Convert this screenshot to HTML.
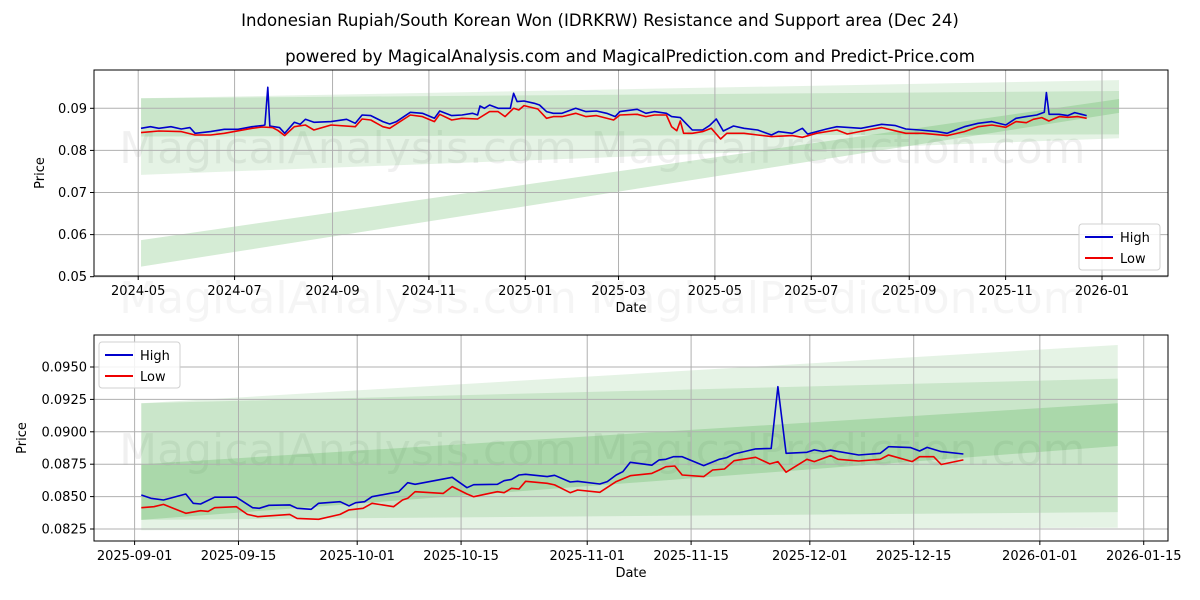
<!DOCTYPE html>
<html><head><meta charset="utf-8"><style>
body{margin:0;background:#fff}
svg{display:block;font-family:"DejaVu Sans","Liberation Sans",sans-serif}
</style></head><body>
<svg id="chart" width="1200" height="600" viewBox="0 0 1200 600" xmlns="http://www.w3.org/2000/svg">
<text x="600" y="26" text-anchor="middle" font-size="16.6">Indonesian Rupiah/South Korean Won (IDRKRW) Resistance and Support area (Dec 24)</text>
<text x="630" y="62" text-anchor="middle" font-size="16.6">powered by MagicalAnalysis.com and MagicalPrediction.com and Predict-Price.com</text>
<g id="top"></g>
<g id="bot"></g>
</svg>
<script>
// ---------- TOP CHART DATA (days since 2024-05-01) ----------
const topHighDays=[1.8,7.7,13.1,20.7,27.3,32.7,36.0,45.8,54.5,63.2,72.0,78.5,80.2,82.0,83.3,89.4,92.7,98.8,102.5,105.8,111.2,122.1,131.9,137.4,141.7,147.2,154.8,159.2,163.5,172.2,179.9,187.5,190.8,198.4,204.9,211.5,214.8,216.3,219.1,222.4,227.8,235.5,237.6,239.8,244.2,250.7,254.0,258.4,262.7,268.2,276.9,283.4,290.0,296.5,301.9,304.9,315.8,321.3,326.7,334.3,337.6,343.1,350.7,357.2,361.6,365.9,370.3,376.8,383.4,392.1,400.8,405.2,413.9,420.4,423.7,435.7,442.2,457.5,470.6,479.3,485.8,494.6,505.5,512.0,522.9,531.6,540.3,549.1,555.6,562.1,568.7,573.5,574.8,576.5,582.9,588.3,592.7,597.0,600.3];
const topHigh=[.08525,.08564,.08525,.08564,.08509,.08541,.08406,.08446,.08501,.08501,.08564,.08588,.08604,.09499,.0858,.08541,.08406,.08667,.0862,.08739,.08667,.08683,.08739,.08644,.08842,.08826,.08683,.08628,.08683,.08905,.08881,.08762,.08937,.08826,.08842,.08881,.08842,.09055,.09,.09079,.09,.09,.09356,.09158,.09174,.09119,.09079,.08921,.08881,.08881,.09,.08921,.08937,.08881,.08802,.08921,.08976,.08881,.08921,.08881,.08802,.08778,.08485,.08485,.08588,.08747,.08461,.0858,.08525,.08485,.08366,.08446,.08406,.08525,.0839,.08509,.08564,.08525,.0862,.08588,.08509,.08485,.08446,.08406,.08564,.08644,.08683,.08604,.08762,.08802,.08842,.08905,.09372,.08857,.08857,.08826,.08897,.08857,.08826];
const topLowDays=[1.8,13.1,27.3,36.0,45.8,54.5,72.0,78.5,85.0,88.3,92.7,98.8,105.8,111.2,122.1,137.4,141.7,147.2,154.8,159.2,172.2,179.9,187.5,190.8,198.4,204.9,214.8,222.4,227.8,232.2,237.6,240.9,244.2,252.9,258.4,262.7,268.2,276.9,283.4,290.0,300.9,304.9,315.8,321.3,326.7,334.3,337.6,340.9,343.1,345.2,350.7,357.2,362.7,368.6,372.5,383.4,392.1,400.8,413.9,420.4,429.2,442.2,448.8,461.9,470.6,485.8,496.7,512.0,522.9,531.6,540.3,549.1,555.6,562.1,566.5,571.9,576.3,582.9,588.3,594.8,600.3];
const topLow=[.08422,.08461,.08446,.08366,.08366,.08406,.08525,.08556,.08541,.08477,.08351,.08564,.08604,.08485,.08604,.08564,.08747,.08723,.08564,.08525,.08842,.08802,.08683,.08857,.08723,.08762,.08747,.08921,.08921,.08802,.09,.0896,.09063,.08984,.08762,.08802,.08802,.08881,.08802,.08826,.08723,.08842,.08857,.08802,.08842,.08842,.08564,.08469,.08699,.08406,.08406,.08446,.08525,.08271,.08406,.08406,.08366,.08327,.08351,.08311,.08406,.08485,.0839,.08485,.08541,.08406,.08406,.08351,.08446,.08564,.08604,.08548,.08683,.08659,.08739,.08778,.08699,.08802,.08786,.08802,.08762];
const topBandDays=[1.8,620.8];
const topBandTopStart=[.0924,.0924,.0587];
const topBandTopEnd=[.0967,.0941,.0922];
const topBandBotStart=[.0742,.0833,.0524];
const topBandBotEnd=[.0829,.0838,.0889];
const topYTicks=[0.05,0.06,0.07,0.08,0.09];
const topXTickDays=[0,61,123,184,245,304,365,426,488,549,610];
const topXTickLabels=["2024-05","2024-07","2024-09","2024-11","2025-01","2025-03","2025-05","2025-07","2025-09","2025-11","2026-01"];
// ---------- BOTTOM CHART DATA (days since 2025-09-01) ----------
const botHighDays=[0.9,2.2,3.9,6.9,7.9,8.9,10.8,13.7,15.9,16.8,18.1,20.9,21.9,23.8,24.8,27.7,28.9,29.8,31.0,32.0,35.6,36.8,37.8,42.8,44.8,45.7,48.9,49.8,50.8,51.8,52.7,55.6,56.6,58.7,59.7,62.7,63.7,64.9,65.8,66.8,69.7,70.7,71.6,72.6,73.8,76.7,78.8,79.8,80.8,83.7,85.8,86.7,87.8,90.6,91.6,92.8,93.8,97.6,100.5,101.6,104.6,105.8,106.8,108.7,111.7];
const botHigh=[.08512,.08487,.08474,.0852,.08448,.08443,.08495,.08495,.08414,.0841,.08433,.08436,.0841,.08402,.08448,.08461,.08428,.08453,.08461,.08499,.08538,.08607,.08595,.08649,.08569,.08592,.08595,.08623,.08633,.08667,.08672,.08654,.08664,.08613,.08618,.08597,.08616,.08667,.08692,.08765,.08742,.08783,.08788,.08808,.08808,.08739,.08788,.08801,.08829,.08868,.08872,.09348,.08834,.08842,.0886,.08848,.08858,.08821,.08834,.08885,.08878,.08852,.0888,.08847,.08829];
const botLowDays=[0.9,2.6,3.9,6.9,8.9,9.9,10.8,13.7,15.2,16.6,20.9,21.9,24.8,27.7,28.9,30.8,32.0,34.9,36.1,36.8,37.8,41.6,42.8,44.8,45.7,48.9,49.8,50.8,51.8,52.7,55.6,56.6,58.7,59.7,62.7,64.9,66.8,69.7,70.7,71.6,72.8,73.8,76.7,77.9,79.5,80.8,83.7,85.6,86.7,87.8,90.6,91.6,93.8,94.8,97.6,100.5,101.6,104.8,105.8,107.7,108.7,111.7];
const botLow=[.08414,.08422,.0844,.08371,.08391,.08386,.08414,.08422,.08363,.08345,.08363,.08332,.08325,.08363,.08397,.0841,.08448,.08422,.08474,.08487,.08538,.08525,.08577,.0852,.08499,.08538,.0853,.08564,.08559,.08618,.08603,.0859,.0853,.08551,.08533,.08616,.08661,.08679,.08705,.08731,.08736,.08667,.08654,.08705,.08713,.08777,.08803,.08752,.0877,.08688,.08788,.0877,.08816,.08788,.08775,.08788,.08821,.0877,.08808,.08808,.08748,.08783];
const botBandDays=[0.9,132.5];
const botBandTopStart=[.0922,.0922,.0875];
const botBandTopEnd=[.0967,.0941,.0922];
const botBandBotStart=[.0824,.0832,.0832];
const botBandBotEnd=[.0826,.0838,.0889];
const botYTicks=[0.0825,0.085,0.0875,0.09,0.0925,0.095];
const botYTickLabels=["0.0825","0.0850","0.0875","0.0900","0.0925","0.0950"];
const botXTickDays=[0,14,30,44,61,75,91,105,122,136];
const botXTickLabels=["2025-09-01","2025-09-15","2025-10-01","2025-10-15","2025-11-01","2025-11-15","2025-12-01","2025-12-15","2026-01-01","2026-01-15"];
const bandAlphas=[0.12,0.15,0.2];

const NS="http://www.w3.org/2000/svg";
function mk(parent,tag,attrs){const e=document.createElementNS(NS,tag);for(const k in attrs)e.setAttribute(k,attrs[k]);parent.appendChild(e);return e;}

function panel(g,cfg){
  const {L,R,T,B,x,y}=cfg;
  [["MagicalAnalysis.com",348],["MagicalPrediction.com",838]].forEach(([t,cx])=>{
    const w=mk(g,"text",{x:cx,y:cfg.wmY,"text-anchor":"middle","font-size":"44",fill:"#000","fill-opacity":"0.06"});
    
    
    w.textContent=t;
  });
  for(let i=0;i<cfg.bTS.length;i++){
    const d0=cfg.bDays[0],d1=cfg.bDays[1];
    const p=mk(g,"polygon",{points:`${x(d0)},${y(cfg.bTS[i])} ${x(d1)},${y(cfg.bTE[i])} ${x(d1)},${y(cfg.bBE[i])} ${x(d0)},${y(cfg.bBS[i])}`,fill:"#2ca02c","fill-opacity":bandAlphas[i]});
    
    
  }
  cfg.yTicks.forEach((v,i)=>{
    const l=mk(g,"line",{x1:L,x2:R,y1:y(v),y2:y(v),stroke:"#b0b0b0","stroke-width":1});
    
    
    mk(g,"line",{x1:L-4,x2:L,y1:y(v),y2:y(v),stroke:"#000"});
    const t=mk(g,"text",{x:L-7,y:y(v)+4.5,"text-anchor":"end","font-size":"13"});
    
    
    t.textContent=cfg.yLabels[i];
  });
  cfg.xTicks.forEach((d,i)=>{
    const l=mk(g,"line",{x1:x(d),x2:x(d),y1:T,y2:B,stroke:"#b0b0b0","stroke-width":1});
    
    
    mk(g,"line",{x1:x(d),x2:x(d),y1:B,y2:B+4,stroke:"#000"});
    const t=mk(g,"text",{x:x(d),y:B+19,"text-anchor":"middle","font-size":"13"});
    
    
    t.textContent=cfg.xLabels[i];
  });
  [[cfg.hD,cfg.h,"#0000cc","high-line"],[cfg.lD,cfg.l,"#ee0000","low-line"]].forEach(([ds,vs,c,n])=>{
    const pts=ds.map((d,i)=>x(d).toFixed(1)+","+y(vs[i]).toFixed(1)).join(" ");
    const pl=mk(g,"polyline",{points:pts,fill:"none",stroke:c,"stroke-width":1.6,"stroke-linejoin":"round"});
    
    
  });
  const fr=mk(g,"rect",{x:L,y:T,width:R-L,height:B-T,fill:"none",stroke:"#000","stroke-width":1});
  
  
  const xl=mk(g,"text",{x:(L+R)/2,y:B+36,"text-anchor":"middle","font-size":"13"});
  
  
  xl.textContent="Date";
  const yl=mk(g,"text",{x:0,y:0,"text-anchor":"middle","font-size":"13",transform:`translate(${cfg.yTitleX},${(T+B)/2}) rotate(-90)`});
  
  
  yl.textContent="Price";
  const lg=mk(g,"g",{});
  
  
  mk(lg,"rect",{x:cfg.lgX,y:cfg.lgY,width:81,height:46,rx:3,fill:"#fff","fill-opacity":0.85,stroke:"#d0d0d0"});
  [["High","#0000cc"],["Low","#ee0000"]].forEach(([t,c],i)=>{
    const yy=cfg.lgY+13+i*21;
    mk(lg,"line",{x1:cfg.lgX+6,x2:cfg.lgX+34,y1:yy,y2:yy,stroke:c,"stroke-width":2});
    const tx=mk(lg,"text",{x:cfg.lgX+41,y:yy+5,"font-size":"13"});
    
    
    tx.textContent=t;
  });
}

panel(document.getElementById("top"),{
  L:94,R:1168,T:70,B:276,
  x:d=>138.2+d*1.58, y:v=>276.7-(v-0.05)*4210,
  wmY:163,
  bDays:topBandDays,bTS:topBandTopStart,bTE:topBandTopEnd,bBS:topBandBotStart,bBE:topBandBotEnd,
  yTicks:topYTicks,yLabels:topYTicks.map(v=>v.toFixed(2)),
  xTicks:topXTickDays,xLabels:topXTickLabels,
  hD:topHighDays,h:topHigh,lD:topLowDays,l:topLow,
  yTitleX:44,lgX:1079,lgY:224
});
panel(document.getElementById("bot"),{
  L:94,R:1168,T:335,B:541,
  x:d=>134.6+d*7.42, y:v=>529-(v-0.0825)*12960,
  wmY:465,
  bDays:botBandDays,bTS:botBandTopStart,bTE:botBandTopEnd,bBS:botBandBotStart,bBE:botBandBotEnd,
  yTicks:botYTicks,yLabels:botYTickLabels,
  xTicks:botXTickDays,xLabels:botXTickLabels,
  hD:botHighDays,h:botHigh,lD:botLowDays,l:botLow,
  yTitleX:26,lgX:99,lgY:342
});
[["MagicalAnalysis.com",348],["MagicalPrediction.com",838]].forEach(([t,cx])=>{
  const w=mk(document.getElementById("chart"),"text",{x:cx,y:313,"text-anchor":"middle","font-size":"44",fill:"#000","fill-opacity":"0.04"});
  
  
  w.textContent=t;
});
</script>
</body></html>
